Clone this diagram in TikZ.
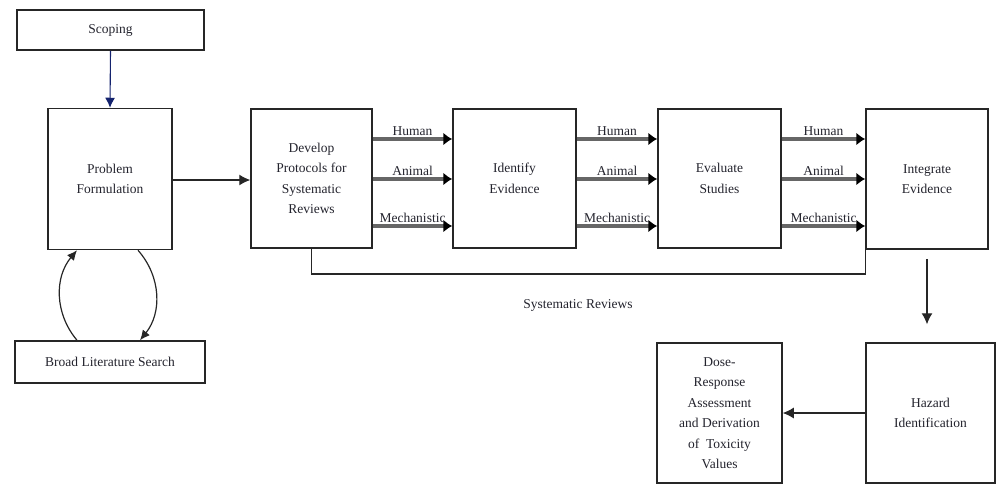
\documentclass[tikz,border=0pt]{standalone}
\usepackage{fontspec}
\setmainfont{Liberation Serif}
\usetikzlibrary{arrows.meta,calc}

\definecolor{inkc}{RGB}{35,35,45}
\definecolor{navyc}{RGB}{20,35,110}

\tikzset{
  stage/.style={draw=black!85, line width=1.5pt, align=center, inner sep=0pt,
                font=\fontsize{13.5}{20.5}\selectfont, text=inkc},
  flowline/.style={draw=black!85, line width=1.1pt},
  flowarrow/.style={flowline, -{Latex[length=11pt,width=11pt]}},
  streamarrow/.style={draw=black!60, line width=3.6pt,
                      -{Latex[length=9pt,width=13pt,color=black]}},
  streamlabel/.style={midway, above, inner sep=1.5pt,
                      font=\fontsize{13.5}{16}\selectfont, text=inkc},
  looparrow/.style={draw=black!85, line width=1.2pt,
                    -{Latex[length=10pt,width=9pt]}},
}

\begin{document}
\begin{tikzpicture}[x=1pt,y=-1pt]
  \useasboundingbox (0,0) rectangle (997,485);

  % boxes
  \node[stage, minimum width=187pt, minimum height=40pt] (scope) at (110.5,30) {Scoping};
  \node[stage, minimum width=124pt, minimum height=141pt] (prob) at (110,179) {Problem\\Formulation};
  \node[stage, minimum width=190pt, minimum height=42pt] (lit) at (110,362) {Broad Literature Search};
  \node[stage, minimum width=121pt, minimum height=139pt] (proto) at (311.5,178.5) {Develop\\Protocols for\\Systematic\\Reviews};
  \node[stage, minimum width=123pt, minimum height=139pt] (ident) at (514.5,178.5) {Identify\\Evidence};
  \node[stage, minimum width=123pt, minimum height=139pt] (evalu) at (719.5,178.5) {Evaluate\\Studies};
  \node[stage, minimum width=122pt, minimum height=140pt] (integ) at (927,179) {Integrate\\Evidence};
  \node[stage, minimum width=129pt, minimum height=140pt] (hazard) at (930.5,413) {Hazard\\Identification};
  \node[stage, minimum width=125pt, minimum height=140pt] (dose) at (719.5,413) {Dose-\\Response\\Assessment\\and Derivation\\of~ Toxicity\\Values};

  % rows of the evidence streams
  \coordinate (rowH) at (0,139);
  \coordinate (rowA) at (0,179);
  \coordinate (rowM) at (0,226);
  \coordinate (rowS) at (0,274);
  \coordinate (rowP) at (0,180);

  % scoping and problem formulation
  \draw[navyc, line width=1.1pt, -{Latex[length=10pt,width=10pt]}] (scope.south) -- (prob.north);
  \draw[flowarrow] (prob.east |- rowP) -- (proto.west |- rowP);
  \draw[looparrow] (lit.north -| 77,0) to[bend left=40] (prob.south -| 77,0);
  \draw[looparrow] (prob.south -| 138,0) to[bend left=40] (lit.north -| 140,0);

  % evidence streams
  \foreach \a/\b in {proto/ident, ident/evalu, evalu/integ}{
    \draw[streamarrow] (\a.east |- rowH) -- (\b.west |- rowH) node[streamlabel] {Human};
    \draw[streamarrow] (\a.east |- rowA) -- (\b.west |- rowA) node[streamlabel] {Animal};
    \draw[streamarrow] (\a.east |- rowM) -- (\b.west |- rowM) node[streamlabel] {Mechanistic};
  }

  % systematic review bracket
  \draw[flowline] (proto.south) |- (integ.south west |- rowS) -- (integ.south west);
  \node[font=\fontsize{13.5}{16}\selectfont, text=inkc] (srlabel) at (578,305) {Systematic Reviews};

  % hazard identification and dose-response
  \draw[flowarrow] ($(integ.south)+(0,9)$) -- ($(integ.south |- hazard.north)+(0,-18)$);
  \draw[flowarrow] (hazard.west) -- (dose.east);
\end{tikzpicture}
\end{document}
